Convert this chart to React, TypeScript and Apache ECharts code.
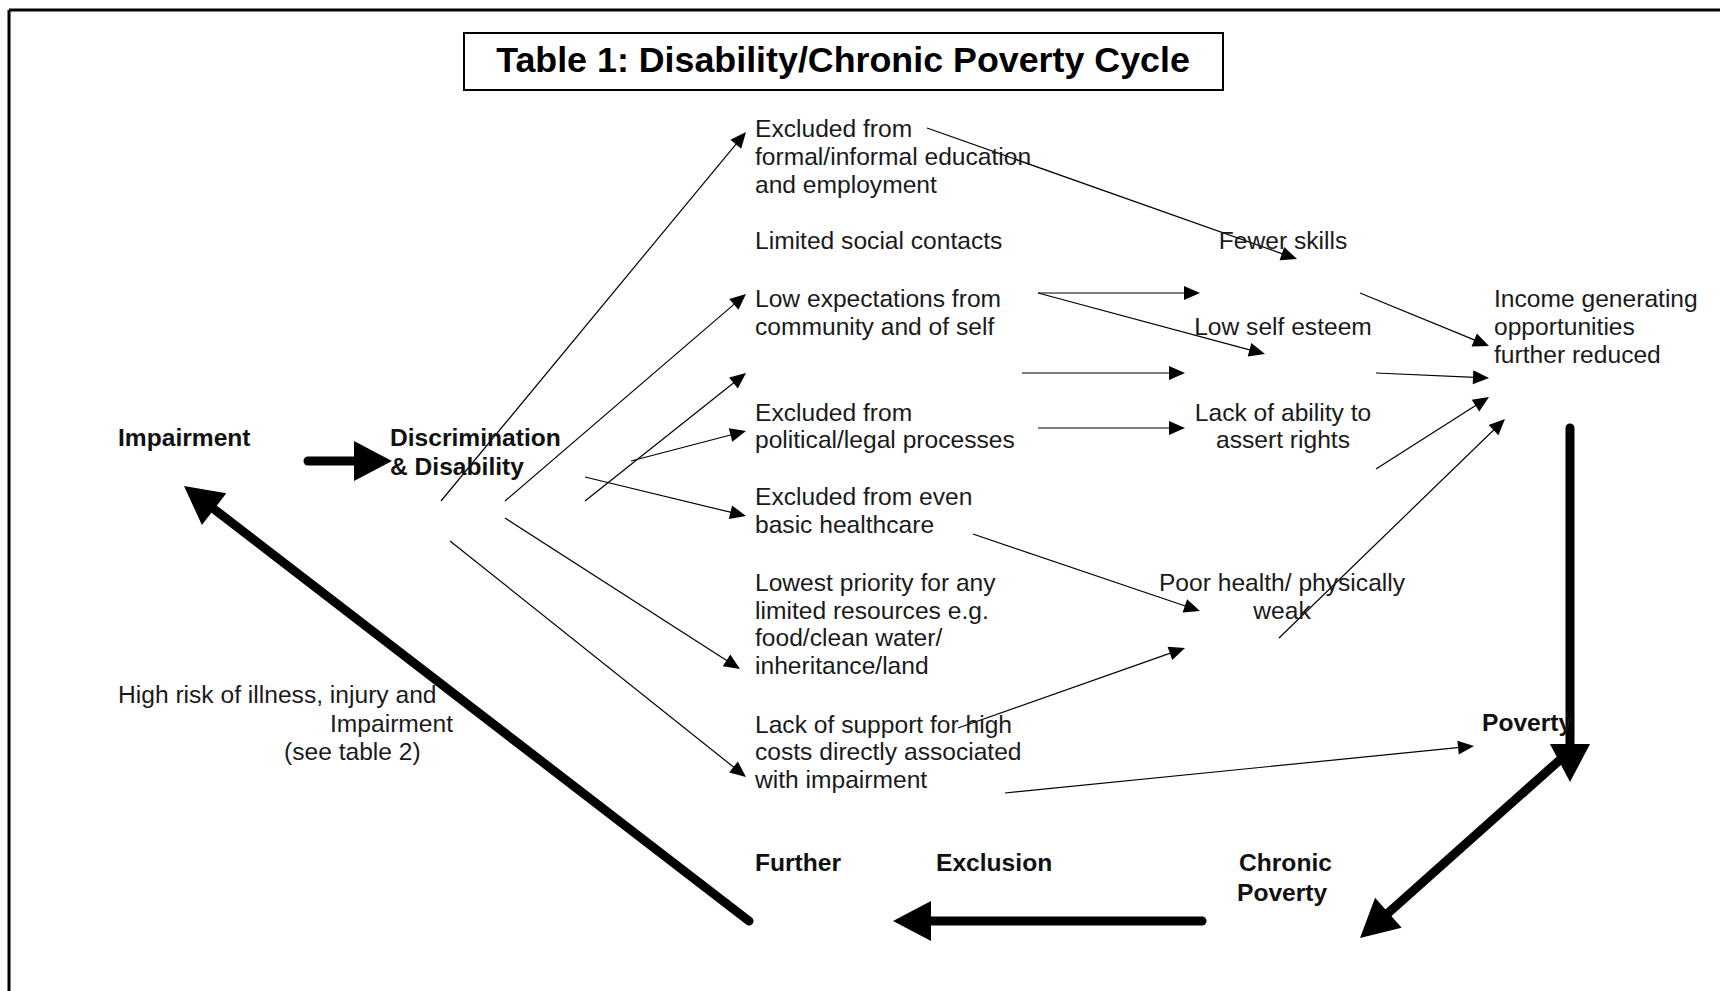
import React, { useEffect, useRef } from "react";
import * as echarts from "echarts";

const TITLE = "Table 1: Disability/Chronic Poverty Cycle";

// [text, x, y(center of line)]
const leftLabels: [string, number, number][] = [
  ["Excluded from", 755, 128],
  ["formal/informal education", 755, 156],
  ["and employment", 755, 184],
  ["Limited social contacts", 755, 240],
  ["Low expectations from", 755, 298],
  ["community and of self", 755, 326],
  ["Excluded from", 755, 412],
  ["political/legal processes", 755, 439],
  ["Excluded from even", 755, 496],
  ["basic healthcare", 755, 524],
  ["Lowest priority for any", 755, 582],
  ["limited resources e.g.", 755, 610],
  ["food/clean water/", 755, 637],
  ["inheritance/land", 755, 665],
  ["Lack of support for high", 755, 724],
  ["costs directly associated", 755, 751],
  ["with impairment", 755, 779],
  ["Income generating", 1494, 298],
  ["opportunities", 1494, 326],
  ["further reduced", 1494, 354],
  ["High risk of illness, injury and", 118, 694],
  ["Impairment", 330, 723],
  ["(see table 2)", 284, 751],
];

const centerLabels: [string, number, number][] = [
  ["Fewer skills", 1283, 240],
  ["Low self esteem", 1283, 326],
  ["Lack of ability to", 1283, 412],
  ["assert rights", 1283, 439],
  ["Poor health/ physically", 1282, 582],
  ["weak", 1282, 610],
];

const boldLabels: [string, number, number][] = [
  ["Impairment", 118, 437],
  ["Discrimination", 390, 437],
  ["& Disability", 390, 466],
  ["Poverty", 1482, 722],
  ["Further", 755, 862],
  ["Exclusion", 936, 862],
  ["Chronic", 1239, 862],
  ["Poverty", 1237, 892],
];

// [x1, y1, x2 (tip), y2 (tip)]
const thinArrows: number[][] = [
  [441, 501, 746, 132],
  [505, 501, 746, 294],
  [585, 501, 746, 373],
  [631, 461, 746, 431],
  [585, 477, 746, 516],
  [505, 518, 740, 669],
  [450, 541, 746, 777],
  [927, 128, 1297, 259],
  [1038, 293, 1200, 293],
  [1038, 293, 1265, 354],
  [1022, 373, 1185, 373],
  [1038, 428, 1185, 428],
  [1360, 293, 1489, 346],
  [1376, 373, 1489, 378],
  [1376, 469, 1489, 397],
  [1279, 638, 1505, 419],
  [973, 534, 1200, 611],
  [958, 728, 1185, 648],
  [1005, 793, 1474, 746],
];

const thickArrows: number[][] = [
  [308, 461, 392, 461],
  [1570, 428, 1570, 782],
  [1562, 758, 1360, 938],
  [1202, 921, 893, 921],
  [749, 921, 184, 486],
];

const FONT_FAMILY = '"Liberation Sans", Arial, sans-serif';

function arrowSeries(data: number[][], lineWidth: number, headLen: number, headWidth: number) {
  return {
    type: "custom",
    coordinateSystem: "cartesian2d",
    clip: false,
    silent: true,
    dimensions: ["x1", "y1", "x2", "y2"],
    encode: { x: [0, 2], y: [1, 3] },
    data,
    renderItem: (params: any, api: any) => {
      const p1 = api.coord([api.value(0), api.value(1)]);
      const p2 = api.coord([api.value(2), api.value(3)]);
      const dx = p2[0] - p1[0];
      const dy = p2[1] - p1[1];
      const len = Math.hypot(dx, dy) || 1;
      const ux = dx / len;
      const uy = dy / len;
      const bx = p2[0] - ux * headLen;
      const by = p2[1] - uy * headLen;
      const nx = -uy;
      const ny = ux;
      return {
        type: "group",
        children: [
          {
            type: "line",
            shape: { x1: p1[0], y1: p1[1], x2: bx + ux * 2, y2: by + uy * 2 },
            style: { stroke: "#000", lineWidth, lineCap: lineWidth > 3 ? "round" : "butt" },
          },
          {
            type: "polygon",
            shape: {
              points: [
                [p2[0], p2[1]],
                [bx + (nx * headWidth) / 2, by + (ny * headWidth) / 2],
                [bx - (nx * headWidth) / 2, by - (ny * headWidth) / 2],
              ],
            },
            style: { fill: "#000" },
          },
        ],
      };
    },
  };
}

function labelSeries(labels: [string, number, number][], align: string, weight: string, color: string) {
  return {
    type: "custom",
    coordinateSystem: "cartesian2d",
    clip: false,
    silent: true,
    dimensions: ["x", "y"],
    encode: { x: 0, y: 1 },
    data: labels.map((l) => [l[1], l[2]]),
    renderItem: (params: any, api: any) => {
      const p = api.coord([api.value(0), api.value(1)]);
      return {
        type: "text",
        x: p[0],
        y: p[1],
        style: {
          text: labels[params.dataIndex][0],
          fill: color,
          font: `${weight} 24.6px ${FONT_FAMILY}`,
          align,
          verticalAlign: "middle",
          textAlign: align,
          textVerticalAlign: "middle",
        },
      };
    },
  };
}

export default function App() {
  const ref = useRef<HTMLDivElement>(null);
  useEffect(() => {
    if (!ref.current) return;
    const chart = echarts.init(ref.current, undefined, { renderer: "svg" });
    chart.setOption({
      animation: false,
      backgroundColor: "#ffffff",
      grid: { left: 0, right: 0, top: 0, bottom: 0 },
      xAxis: { type: "value", min: 0, max: 1720, show: false },
      yAxis: { type: "value", min: 0, max: 991, inverse: true, show: false },
      graphic: [
        { type: "line", shape: { x1: 9, y1: 10, x2: 1720, y2: 10 }, style: { stroke: "#000", lineWidth: 3 } },
        { type: "line", shape: { x1: 9, y1: 10, x2: 9, y2: 991 }, style: { stroke: "#000", lineWidth: 3 } },
        {
          type: "rect",
          shape: { x: 464, y: 33, width: 759, height: 57 },
          style: { fill: "#fff", stroke: "#000", lineWidth: 2 },
        },
        {
          type: "text",
          x: 843,
          y: 60,
          style: {
            text: TITLE,
            fill: "#000",
            font: `bold 35.8px ${FONT_FAMILY}`,
            align: "center",
            verticalAlign: "middle",
            textAlign: "center",
            textVerticalAlign: "middle",
          },
        },
      ],
      series: [
        arrowSeries(thinArrows, 1.2, 16, 14),
        arrowSeries(thickArrows, 9, 38, 40),
        labelSeries(leftLabels, "left", "normal", "#1a1a1a"),
        labelSeries(centerLabels, "center", "normal", "#1a1a1a"),
        labelSeries(boldLabels, "left", "bold", "#111"),
      ],
    });
    return () => chart.dispose();
  }, []);
  return (
    <div
      ref={ref}
      style={{ position: "fixed", left: 0, top: 0, width: 1720, height: 991, background: "#fff" }}
    />
  );
}
